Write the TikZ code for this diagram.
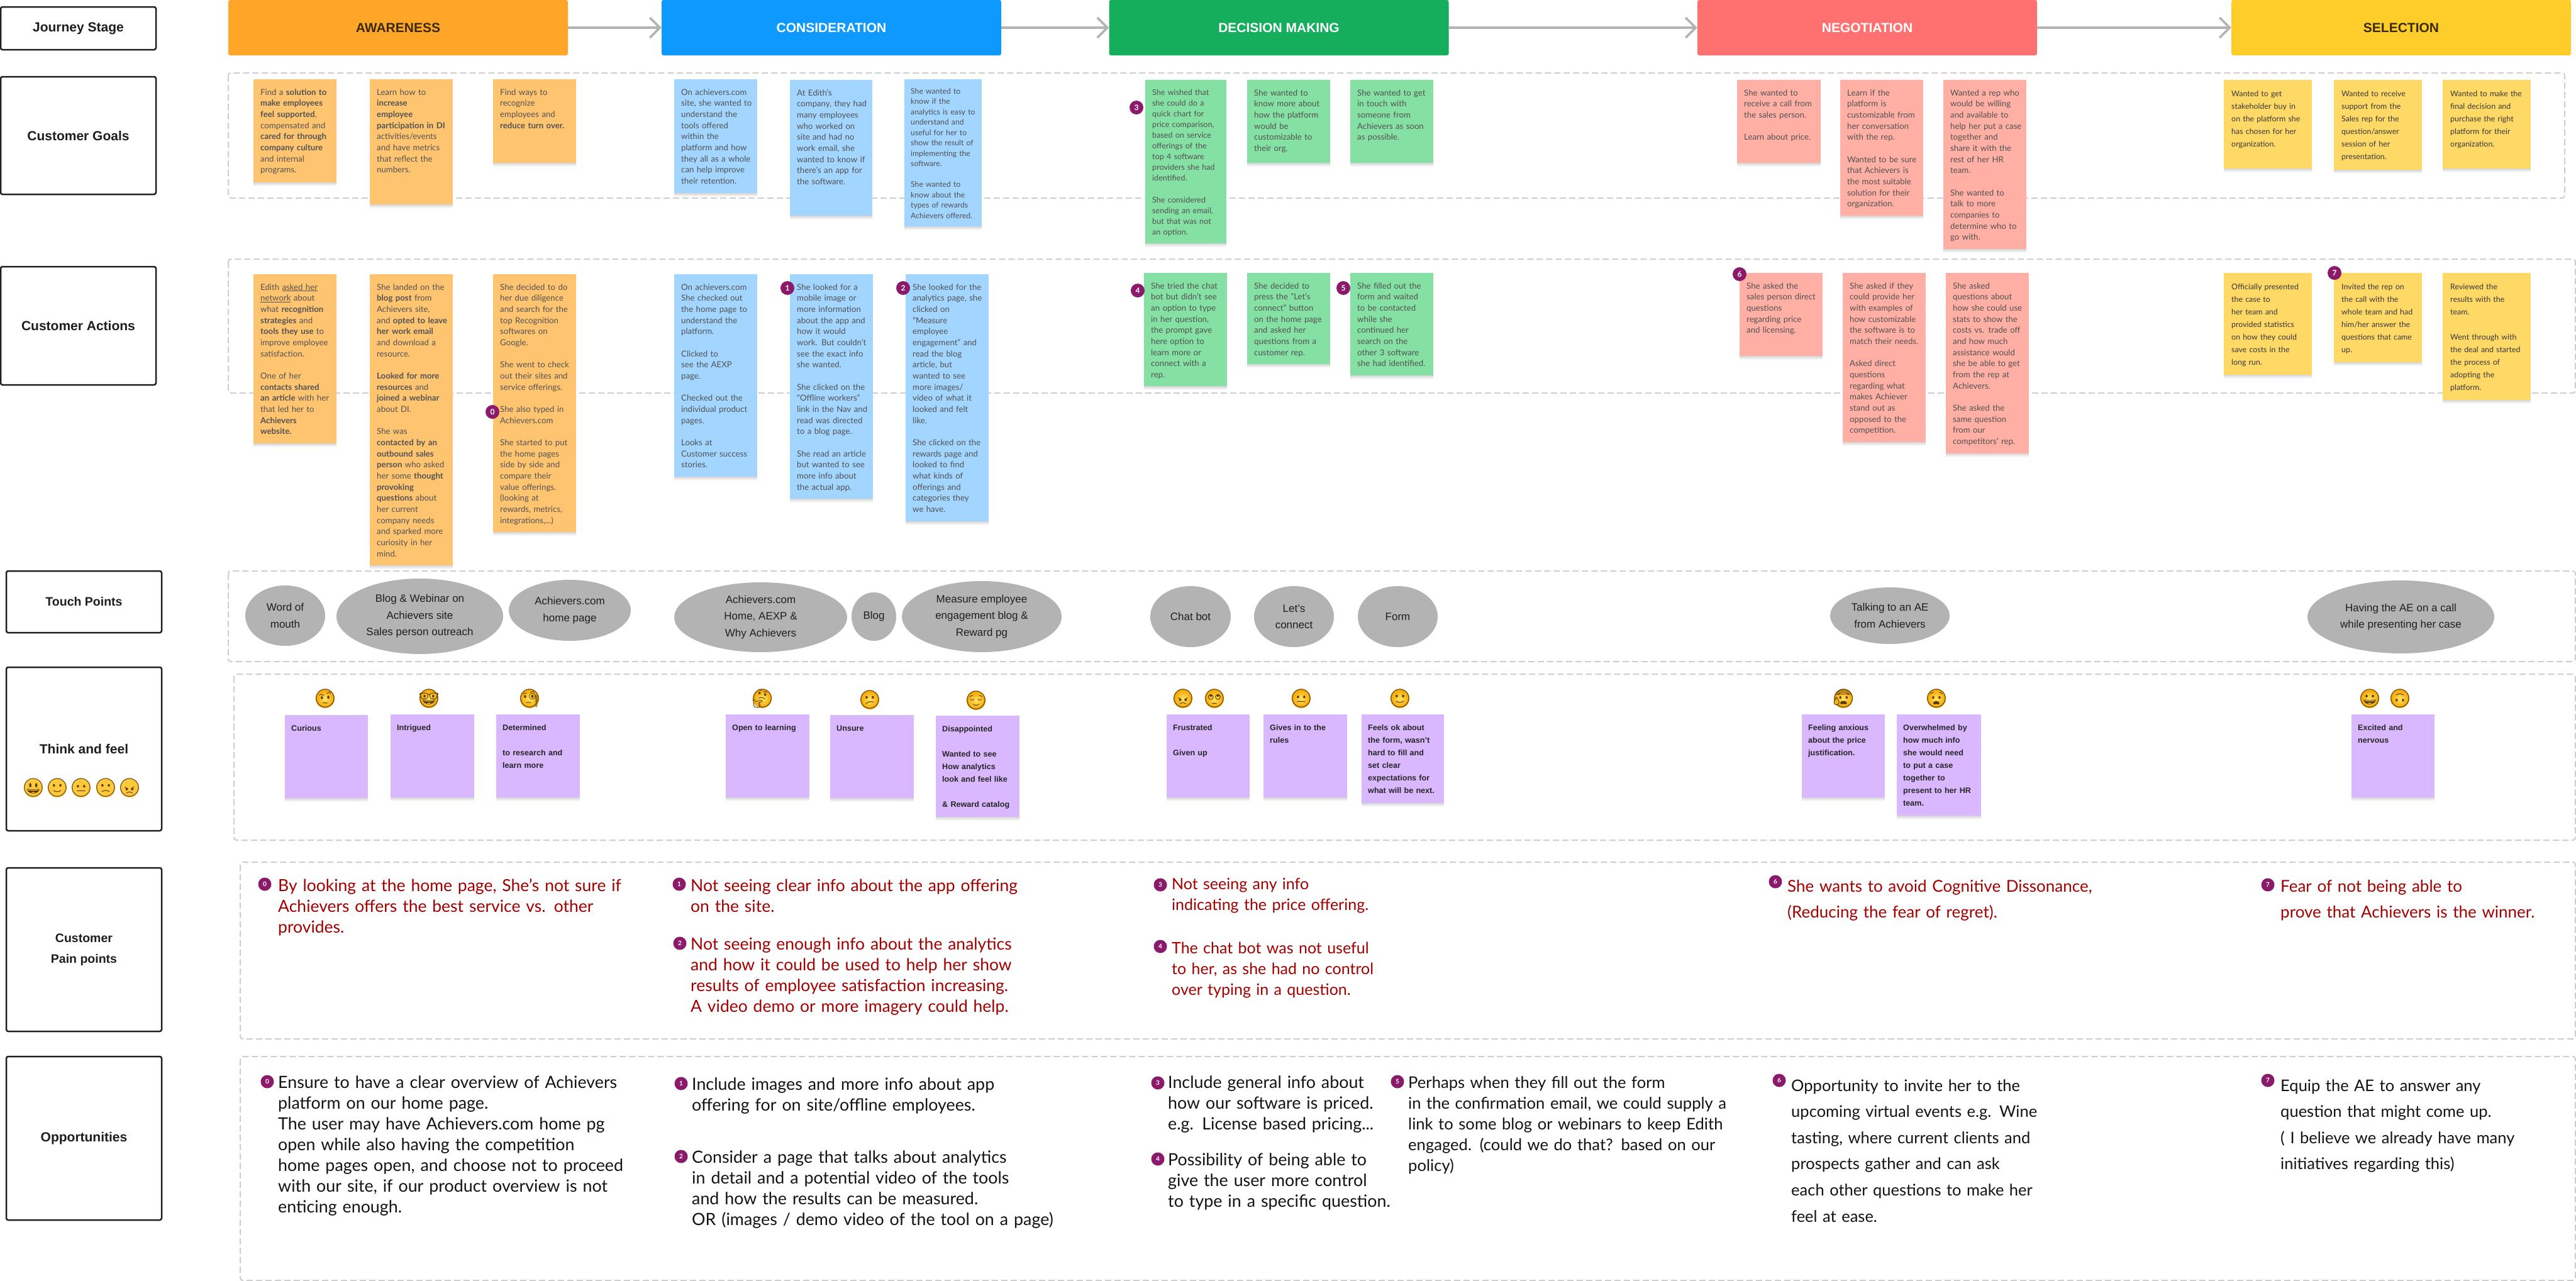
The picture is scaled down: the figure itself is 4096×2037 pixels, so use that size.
\documentclass[tikz,border=0pt]{standalone}
\usepackage{fontspec}
\setmainfont{Lato}
\newfontfamily\insans{Liberation Sans}
\newfontfamily\emojifont{Noto Emoji}
\usetikzlibrary{arrows.meta,shapes.geometric}
\definecolor{cAw}{HTML}{FFA629}
\definecolor{cCo}{HTML}{0D99FF}
\definecolor{cDe}{HTML}{14AE5C}
\definecolor{cNe}{HTML}{FF7070}
\definecolor{cSe}{HTML}{FFCD29}
\definecolor{sAw}{HTML}{FFC470}
\definecolor{sCo}{HTML}{A2D5FF}
\definecolor{sDe}{HTML}{85E0A3}
\definecolor{sNe}{HTML}{FFAFA3}
\definecolor{sSe}{HTML}{FFD966}
\definecolor{sPu}{HTML}{D9B8FF}
\definecolor{cBadge}{HTML}{8C1A6A}
\definecolor{cPain}{HTML}{A30000}
\definecolor{cGrey}{HTML}{B3B3B3}
\definecolor{cDash}{HTML}{CFCFCF}
\definecolor{cBox}{HTML}{1E1E1E}
\definecolor{cDarkTxt}{HTML}{3A2A0C}
\definecolor{emoIn}{HTML}{FFE463}
\definecolor{emoOut}{HTML}{F5A300}
\definecolor{emoFlat}{HTML}{FFC83D}
\definecolor{emoInk}{HTML}{5A3C00}
\newcommand\fsz[2]{\fontsize{#1}{#2}\selectfont}
\tikzset{
  labelbox/.style={draw=cBox,line width=2.5pt,rounded corners=3pt,fill=white,inner sep=0pt,align=center,
    text=cBox,font=\insans\bfseries\fsz{21}{33}},
  labelsm/.style={font=\insans\bfseries\fsz{19.5}{33}},
  stage/.style={rounded corners=3pt,inner sep=0pt,minimum width=540pt,minimum height=88pt,
    font=\insans\bfseries\fsz{21}{24}},
  flow/.style={draw=cGrey,line width=3.6pt,-{Straight Barb[length=16pt,width=32pt,line width=3.6pt]}},
  zone/.style={draw=cDash,line width=2pt,dash pattern=on 10pt off 5pt,rounded corners=4pt},
  stickybox/.style={anchor=north west,inner sep=0pt,outer sep=0pt},
  stickytext/.style={anchor=base west,inner sep=0pt,align=left,text=black!68},
  txtstd/.style={font=\fsz{13.2}{17.67}},
  txtsm/.style={font=\fsz{12.2}{16.5},yshift=2pt,xshift=-1pt},
  txtde/.style={font=\fsz{12.6}{17.1},yshift=1pt},
  txtsel/.style={font=\fsz{12.4}{20},text=black!78,yshift=-1pt,xshift=1pt},
  txtpu/.style={font=\insans\bfseries\fsz{12.6}{20},text=black!85,xshift=-1pt},
  touch/.style={ellipse,fill=cGrey,inner sep=-6pt,align=center,text=black!88,
    font=\insans\fsz{17}{26.5}},
  badgedot/.style={circle,fill=cBadge,inner sep=0pt,minimum size=22pt,text=white,
    font=\bfseries\fsz{12}{14}},
  painbadge/.style={badgedot,minimum size=21pt,font=\bfseries\fsz{10}{12}},
  blocktxt/.style={anchor=base west,inner sep=0pt,align=left,yshift=-1.5pt,text width=640pt},
  pain/.style={blocktxt,text=cPain,font=\fsz{26.5}{33}},
  opp/.style={blocktxt,text=black!92,font=\fsz{26.8}{33}},
  emoball/.style={circle,inner sep=0pt,minimum size=30pt,inner color=emoIn,outer color=emoOut},
  emoflat/.style={circle,inner sep=0pt,minimum size=30pt,fill=emoFlat},
  emoglyph/.style={inner sep=0pt,text=emoInk,font=\emojifont\fsz{29}{30}},
}
\newcommand\gapl{\\[\baselineskip]}
\newcommand\sticky[8][txtstd]{%
  \shade[top color=black!16,bottom color=white] (#3,#4+#6) rectangle (#3+#5,#4+#6+6);
  \node[stickybox,fill=#7,minimum width=#5,minimum height=#6] (#2) at (#3,#4) {};
  \node[stickytext,#1,text width=#5pt] (#2t) at (#3+11,#4+25) {#8};}
\newcommand\emo[5][emoball]{%
  \node[#1] (#2) at (#3,#4) {};
  \node[emoglyph] (#2g) at (#3,#4) {#5};}
\begin{document}
\begin{tikzpicture}[x=1pt,y=-1pt]
\useasboundingbox[fill=white] (0,0) rectangle (4096,2037);
% zones
\draw[zone] (363,116) rectangle (4078,315);
\draw[zone] (363,412) rectangle (4095,625);
\draw[zone] (363,908) rectangle (4095,1052);
\draw[zone] (372,1072) rectangle (4095,1336);
\draw[zone] (382,1371) rectangle (4095,1652);
\draw[zone] (382,1680) rectangle (4095,2036);
% row labels
\node[labelbox,minimum width=247pt,minimum height=68pt] (lJourney) at (124.5,45) {Journey Stage};
\node[labelbox,minimum width=247pt,minimum height=187pt] (lGoals) at (124.5,215.5) {Customer Goals};
\node[labelbox,minimum width=247pt,minimum height=188pt] (lActions) at (124.5,518) {Customer Actions};
\node[labelbox,labelsm,minimum width=247pt,minimum height=98pt] (lTouch) at (133.5,957) {Touch Points};
\node[labelbox,minimum width=247pt,minimum height=260pt] (lThink) at (133.5,1191) {Think and feel};
\node[labelbox,labelsm,minimum width=247pt,minimum height=260pt] (lPain) at (133.5,1510) {Customer\\Pain points};
\node[labelbox,minimum width=247pt,minimum height=260pt] (lOpp) at (133.5,1810) {Opportunities};
\emo[emoflat]{f1}{53}{1253}{😃}
\emo[emoflat]{f2}{91}{1253}{🙂}
\emo[emoflat]{f3}{129}{1253}{😐}
\emo[emoflat]{f4}{168}{1253}{🙁}
\emo[emoflat]{f5}{206}{1253}{😠}
% stages
\node[stage,fill=cAw,text=cDarkTxt] (sAw) at (633,44) {AWARENESS};
\node[stage,fill=cCo,text=white] (sCo) at (1322,44) {CONSIDERATION};
\node[stage,fill=cDe,text=white] (sDe) at (2033.5,44) {DECISION MAKING};
\node[stage,fill=cNe,text=white] (sNe) at (2969,44) {NEGOTIATION};
\node[stage,fill=cSe,text=cDarkTxt] (sSe) at (3818,44) {SELECTION};
\draw[flow] (sAw) -- (sCo);
\draw[flow] (sCo) -- (sDe);
\draw[flow] (sDe) -- (sNe);
\draw[flow] (sNe) -- (sSe);
% goals: awareness
\sticky{g1}{403}{126}{132}{164}{sAw}{Find a \textbf{solution to}\\\textbf{make employees}\\\textbf{feel supported},\\compensated and\\\textbf{cared for through}\\\textbf{company culture}\\and internal\\programs.}
\sticky{g2}{588}{126}{132}{199}{sAw}{Learn how to\\\textbf{increase}\\\textbf{employee}\\\textbf{participation in DI}\\activities/events\\and have metrics\\that reflect the\\numbers.}
\sticky{g3}{784}{126}{132}{133}{sAw}{Find ways to\\recognize\\employees and\\\textbf{reduce turn over.}}
% goals: consideration
\sticky{g4}{1072}{126}{132}{181}{sCo}{On achievers.com\\site, she wanted to\\understand the\\tools offered\\within the\\platform and how\\they all as a whole\\can help improve\\their retention.}
\sticky{g5}{1256}{127}{131}{216}{sCo}{At Edith’s\\company, they had\\many employees\\who worked on\\site and had no\\work email, she\\wanted to know if\\there’s an app for\\the software.}
\sticky[txtsm]{g6}{1438}{126}{123}{234}{sCo}{She wanted to\\know if the\\analytics is easy to\\understand and\\useful for her to\\show the result of\\implementing the\\software.\gapl She wanted to\\know about the\\types of rewards\\Achievers offered.}
% goals: decision
\sticky[txtde]{g7}{1821}{127}{129}{260}{sDe}{She wished that\\she could do a\\quick chart for\\price comparison,\\based on service\\offerings of the\\top 4 software\\providers she had\\identified.\gapl She considered\\sending an email,\\but that was not\\an option.}
\sticky{g8}{1983}{127}{132}{132}{sDe}{She wanted to\\know more about\\how the platform\\would be\\customizable to\\their org.}
\sticky{g9}{2147}{127}{132}{132}{sDe}{She wanted to get\\in touch with\\someone from\\Achievers as soon\\as possible.}
% goals: negotiation
\sticky{g10}{2762}{127}{133}{132}{sNe}{She wanted to\\receive a call from\\the sales person.\gapl Learn about price.}
\sticky{g11}{2926}{127}{132}{216}{sNe}{Learn if the\\platform is\\customizable from\\her conversation\\with the rep.\gapl Wanted to be sure\\that Achievers is\\the most suitable\\solution for their\\organization.}
\sticky{g12}{3090}{127}{132}{269}{sNe}{Wanted a rep who\\would be willing\\and available to\\help her put a case\\together and\\share it with the\\rest of her HR\\team.\gapl She wanted to\\talk to more\\companies to\\determine who to\\go with.}
% goals: selection
\sticky[txtsel]{g13}{3536}{127}{140}{141}{sSe}{Wanted to get\\stakeholder buy in\\on the platform she\\has chosen for her\\organization.}
\sticky[txtsel]{g14}{3711}{127}{140}{143}{sSe}{Wanted to receive\\support from the\\Sales rep for the\\question/answer\\session of her\\presentation.}
\sticky[txtsel]{g15}{3884}{127}{140}{141}{sSe}{Wanted to make the\\final decision and\\purchase the right\\platform for their\\organization.}
% actions: awareness
\sticky{a1}{403}{436}{132}{269}{sAw}{Edith \underline{asked her}\\\underline{network} about\\what \textbf{recognition}\\\textbf{strategies} and\\\textbf{tools they use} to\\improve employee\\satisfaction.\gapl One of her\\\textbf{contacts shared}\\\textbf{an article} with her\\that led her to\\\textbf{Achievers}\\\textbf{website.}}
\sticky{a2}{588}{436}{132}{463}{sAw}{She landed on the\\\textbf{blog post} from\\Achievers site,\\and \textbf{opted to leave}\\\textbf{her work email}\\and download a\\resource.\gapl \textbf{Looked for more}\\\textbf{resources} and\\\textbf{joined a webinar}\\about DI.\gapl She was\\\textbf{contacted by an}\\\textbf{outbound sales}\\\textbf{person} who asked\\her some \textbf{thought}\\\textbf{provoking}\\\textbf{questions} about\\her current\\company needs\\and sparked more\\curiosity in her\\mind.}
\sticky{a3}{784}{436}{132}{410}{sAw}{She decided to do\\her due diligence\\and search for the\\top Recognition\\softwares on\\Google.\gapl She went to check\\out their sites and\\service offerings.\gapl She also typed in\\Achievers.com\gapl She started to put\\the home pages\\side by side and\\compare their\\value offerings.\\(looking at\\rewards, metrics,\\integrations,...)}
% actions: consideration
\sticky{a4}{1072}{436}{132}{322}{sCo}{On achievers.com\\She checked out\\the home page to\\understand the\\platform.\gapl Clicked to\\see the AEXP\\page.\gapl Checked out the\\individual product\\pages.\gapl Looks at\\Customer success\\stories.}
\sticky{a5}{1256}{436}{132}{357}{sCo}{She looked for a\\mobile image or\\more information\\about the app and\\how it would\\work. But couldn’t\\see the exact  info\\she wanted.\gapl She clicked on the\\“Offline workers”\\link in the Nav and\\read was directed\\to a blog page.\gapl She read an article\\but  wanted to see\\more info about\\the actual app.}
\sticky{a6}{1440}{436}{132}{393}{sCo}{She looked for the\\analytics page, she\\clicked on\\“Measure\\employee\\engagement” and\\read the blog\\article, but\\wanted to see\\more images/\\video of what it\\looked and felt\\like.\gapl She clicked on the\\rewards page and\\looked to find\\what kinds of\\offerings and\\categories they\\we have.}
% actions: decision
\sticky{a7}{1819}{434}{132}{180}{sDe}{She tried the chat\\bot but didn’t see\\an option to type\\in her question,\\the prompt gave\\here option to\\learn more or\\connect with a\\rep.}
\sticky{a8}{1983}{434}{132}{145}{sDe}{She decided to\\press the "Let’s\\connect" button\\on the home page\\and asked her\\questions from a\\customer rep.}
\sticky{a9}{2147}{434}{132}{163}{sDe}{She filled out the\\form and waited\\to be contacted\\while she\\continued her\\search on the\\other 3 software\\she had identified.}
% actions: negotiation
\sticky{a10}{2766}{434}{132}{132}{sNe}{She asked the\\sales person direct\\questions\\regarding price\\and licensing.}
\sticky{a11}{2930}{434}{132}{269}{sNe}{She asked if they\\could provide her\\with examples of\\how customizable\\the software is to\\match their needs.\gapl Asked direct\\questions\\regarding what\\makes Achiever\\stand out as\\opposed to the\\competition.}
\sticky{a12}{3094}{434}{132}{287}{sNe}{She asked\\questions about\\how she could use\\stats to show the\\costs vs. trade off\\and how much\\assistance would\\she be able to get\\from the rep at\\Achievers.\gapl She asked the\\same question\\from our\\competitors’ rep.}
% actions: selection
\sticky[txtsel]{a13}{3536}{434}{140}{162}{sSe}{Officially presented\\the case to\\her team and\\provided statistics\\on how they could\\save costs  in the\\long run.}
\sticky[txtsel]{a14}{3711}{434}{140}{142}{sSe}{Invited the rep on\\the call with the\\whole team and had\\him/her answer the\\questions that came\\up.}
\sticky[txtsel]{a15}{3884}{434}{140}{202}{sSe}{Reviewed the\\results with the\\team.\gapl Went through with\\the deal and started\\the process of\\adopting the\\platform.}
% badges on cards
\node[badgedot] (b0) at (783,655) {0};
\node[badgedot] (b1) at (1252,458) {1};
\node[badgedot] (b2) at (1436,458) {2};
\node[badgedot] (b3) at (1807,171) {3};
\node[badgedot] (b4) at (1809,462) {4};
\node[badgedot] (b5) at (2136,458) {5};
\node[badgedot] (b6) at (2766,436) {6};
\node[badgedot] (b7) at (3712,434) {7};
% touch points
\node[touch,minimum width=127pt,minimum height=96pt] (t1) at (453.5,979) {Word of\\mouth};
\node[touch,minimum width=265pt,minimum height=120pt] (t2) at (667.5,980) {Blog \& Webinar on\\Achievers site\\Sales person outreach};
\node[touch,minimum width=194pt,minimum height=97pt] (t3) at (906,970.5) {Achievers.com\\home page};
\node[touch,minimum width=275pt,minimum height=111pt] (t4) at (1209.5,981.5) {Achievers.com\\Home, AEXP \&\\Why Achievers};
\node[touch,minimum width=71pt,minimum height=77pt] (t5) at (1389.5,980.5) {Blog};
\node[touch,minimum width=254pt,minimum height=113pt] (t6) at (1561,980.5) {Measure employee\\engagement blog \&\\Reward pg};
\node[touch,minimum width=128pt,minimum height=97pt] (t7) at (1893,980.5) {Chat bot};
\node[touch,minimum width=127pt,minimum height=97pt] (t8) at (2057.5,980.5) {Let’s\\connect};
\node[touch,minimum width=127pt,minimum height=97pt] (t9) at (2222.5,980.5) {Form};
\node[touch,minimum width=190pt,minimum height=90pt] (t10) at (3005,979) {Talking to an AE\\from Achievers};
\node[touch,minimum width=297pt,minimum height=116pt] (t11) at (3817.5,981) {Having the AE on a call\\while presenting her case};
% think and feel cards
\sticky[txtpu]{p1}{453}{1137}{132}{132}{sPu}{Curious}
\sticky[txtpu]{p2}{621}{1136}{133}{132}{sPu}{Intrigued}
\sticky[txtpu]{p3}{789}{1136}{133}{132}{sPu}{Determined\gapl to research and\\learn more}
\sticky[txtpu]{p4}{1154}{1136}{133}{132}{sPu}{Open to learning}
\sticky[txtpu]{p5}{1320}{1137}{133}{132}{sPu}{Unsure}
\sticky[txtpu]{p6}{1488}{1138}{133}{161}{sPu}{Disappointed\gapl Wanted to see\\How analytics\\look and feel like\gapl \& Reward catalog}
\sticky[txtpu]{p7}{1855}{1136}{132}{132}{sPu}{Frustrated\gapl Given up}
\sticky[txtpu]{p8}{2009}{1136}{133}{132}{sPu}{Gives in to the\\rules}
\sticky[txtpu]{p9}{2165}{1136}{131}{141}{sPu}{Feels ok about\\the form, wasn’t\\hard to fill and\\set clear\\expectations for\\what will be next.}
\sticky[txtpu]{p10}{2865}{1136}{132}{132}{sPu}{Feeling anxious\\about the price\\justification.}
\sticky[txtpu]{p11}{3016}{1136}{134}{161}{sPu}{Overwhelmed by\\how much info\\she would need\\to put a case\\together to\\present to her HR\\team.}
\sticky[txtpu]{p12}{3739}{1136}{132}{132}{sPu}{Excited and\\nervous}
% emoji
\emo{e1}{517}{1111}{🤨}
\emo{e2}{682}{1111}{🤓}
\emo{e3}{842}{1111}{🧐}
\emo{e4}{1212}{1111}{🤔}
\emo{e5}{1383}{1113}{😕}
\emo{e6}{1552}{1114}{😌}
\emo{e7}{1881}{1111}{😠}
\emo{e8}{1931}{1111}{🙄}
\emo{e9}{2069}{1111}{😐}
\emo{e10}{2226}{1111}{🙂}
\emo{e11}{2931}{1111}{😰}
\emo{e12}{3079}{1111}{😧}
\emo{e13}{3768}{1111}{😀}
\emo{e14}{3816}{1111}{🙃}
% pain points
\node[painbadge] (pb0) at (421,1406) {0};
\node[pain] (pt0) at (442,1415.5) {By looking at the home page, She’s not sure if\\Achievers offers the best  service vs. other\\provides.};
\node[painbadge] (pb1) at (1080,1406) {1};
\node[pain] (pt1) at (1098,1415.5) {Not seeing clear info about the app offering\\on the site.};
\node[painbadge] (pb2) at (1081,1500) {2};
\node[pain] (pt2) at (1098,1508.5) {Not seeing enough info about the analytics\\and how it could be used to help her show\\results of employee satisfaction increasing.\\A video demo or more imagery could help.};
\node[painbadge] (pb3) at (1845,1407) {3};
\node[pain,font=\fsz{25}{33}] (pt3) at (1863,1412.5) {Not seeing any info\\indicating the price offering.};
\node[painbadge] (pb4) at (1845,1505) {4};
\node[pain,font=\fsz{25}{33}] (pt4) at (1863,1514.5) {The chat bot was not useful\\to her, as she had no control\\over typing in a question.};
\node[painbadge] (pb6) at (2823,1402) {6};
\node[pain,font=\fsz{26}{41}] (pt6) at (2842,1416.5) {She wants to avoid Cognitive Dissonance,\\(Reducing the fear of regret).};
\node[painbadge] (pb7) at (3606,1407) {7};
\node[pain,font=\fsz{26}{41},text width=460pt] (pt7) at (3626,1416.5) {Fear of not being able to\\prove that Achievers is the winner.};
% opportunities
\node[painbadge] (ob0) at (425,1720) {0};
\node[opp] (ot0) at (442,1728.5) {Ensure to have a clear overview of Achievers\\platform on our home page.\\The user may have Achievers.com home pg\\open while also having the competition\\home pages open, and choose not to proceed\\with our site, if our product overview is not\\enticing enough.};
\node[painbadge] (ob1) at (1083,1723) {1};
\node[opp] (ot1) at (1100,1731.5) {Include images and more info about app\\offering for on site/offline employees.};
\node[painbadge] (ob2) at (1083,1839) {2};
\node[opp] (ot2) at (1100,1847.5) {Consider a page that talks about analytics\\in detail and a potential video of the tools\\and how the results can be measured.\\OR (images / demo video of the tool on a page)};
\node[painbadge] (ob3) at (1841,1722) {3};
\node[opp,text width=360pt] (ot3) at (1857,1728.5) {Include general info about\\how our software is priced.\\e.g. License based pricing...};
\node[painbadge] (ob4) at (1841,1843) {4};
\node[opp,text width=360pt] (ot4) at (1857,1851.5) {Possibility of being able to\\give the user more control\\to type in a specific question.};
\node[painbadge] (ob5) at (2222,1720) {5};
\node[opp,font=\fsz{25.6}{33},text width=570pt] (ot5) at (2239,1728.5) {Perhaps when they fill out the form\\in the confirmation email, we could supply a\\link to some blog or webinars to keep Edith\\engaged. (could we do that? based on our\\policy)};
\node[painbadge] (ob6) at (2829,1718) {6};
\node[opp,font=\fsz{25.5}{41.6},text width=560pt] (ot6) at (2848,1733.5) {Opportunity to invite her to the\\upcoming virtual events e.g. Wine\\tasting, where current clients and\\prospects gather and can ask\\each other questions to make her\\feel at ease.};
\node[painbadge] (ob7) at (3606,1718) {7};
\node[opp,font=\fsz{25.5}{41.6},text width=460pt] (ot7) at (3626,1733.5) {Equip the AE to answer any\\question that might come up.\\( I believe we already have many\\initiatives regarding this)};
\end{tikzpicture}
\end{document}
